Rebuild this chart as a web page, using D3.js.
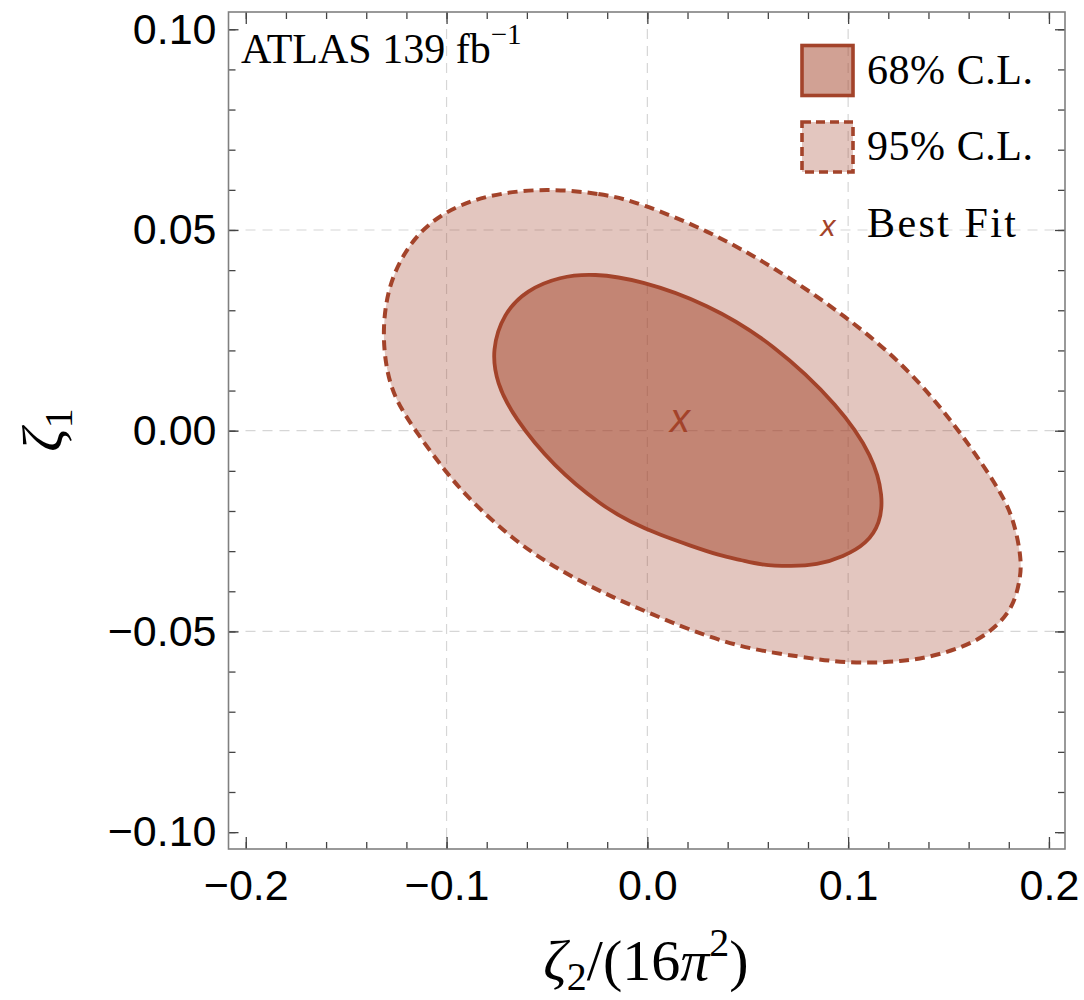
<!DOCTYPE html>
<html>
<head>
<meta charset="utf-8">
<script src="https://cdn.jsdelivr.net/npm/d3@7/dist/d3.min.js"></script>
<style>
  html, body { margin: 0; padding: 0; background: #fff; }
  svg { display: block; }
</style>
</head>
<body>
<svg id="chart" width="1084" height="1000"></svg>
<script>
// ---------------- data ----------------
// 95% C.L. contour (zeta2/(16 pi^2), zeta1)
const contour95 = [
  [-0.0551, 0.0606], [-0.0219, 0.0591], [-0.0036, 0.0567], [0.0296, 0.0500],
  [0.0627, 0.0409], [0.0993, 0.0284], [0.1292, 0.0159], [0.1541, 0.0010],
  [0.1740, -0.0135], [0.1823, -0.0214], [0.1865, -0.0322], [0.1856, -0.0372],
  [0.1823, -0.0438], [0.1740, -0.0488], [0.1624, -0.0530], [0.1424, -0.0563],
  [0.1258, -0.0575], [0.1093, -0.0579], [0.0926, -0.0575], [0.0760, -0.0563],
  [0.0528, -0.0546], [0.0296, -0.0513], [0.0030, -0.0459], [-0.0236, -0.0401],
  [-0.0468, -0.0339], [-0.0667, -0.0272], [-0.0883, -0.0173], [-0.0999, -0.0106],
  [-0.1157, 0.0000], [-0.1265, 0.0085], [-0.1306, 0.0168], [-0.1318, 0.0259],
  [-0.1290, 0.0359], [-0.1215, 0.0442], [-0.1099, 0.0517], [-0.0883, 0.0579]
];
// 68% C.L. contour
const contour68 = [
  [-0.0435, 0.0384], [-0.0269, 0.0392], [-0.0036, 0.0375], [0.0296, 0.0317],
  [0.0627, 0.0218], [0.0960, 0.0060], [0.1125, -0.0065], [0.1175, -0.0164],
  [0.1159, -0.0231], [0.1093, -0.0281], [0.0976, -0.0314], [0.0844, -0.0335],
  [0.0711, -0.0338], [0.0561, -0.0334], [0.0475, -0.0323], [0.0352, -0.0310],
  [0.0213, -0.0286], [0.0063, -0.0260], [-0.0086, -0.0227], [-0.0221, -0.0189],
  [-0.0468, -0.0089], [-0.0667, 0.0035], [-0.0750, 0.0118], [-0.0775, 0.0201],
  [-0.0717, 0.0292], [-0.0601, 0.0351]
];
const bestFit = [0.0163, 0.0022];

const xMajorTicks = [-0.2, -0.1, 0.0, 0.1, 0.2];
const xTickLabels = ["\u22120.2", "\u22120.1", "0.0", "0.1", "0.2"];
const yMajorTicks = [-0.10, -0.05, 0.00, 0.05, 0.10];
const yTickLabels = ["\u22120.10", "\u22120.05", "0.00", "0.05", "0.10"];
const xMinorTicks = d3.range(-20, 21, 2).map(v => v / 100);
const yMinorTicks = d3.range(-10, 11, 1).map(v => v / 100);
const xGrid = [-0.1, 0.0, 0.1];
const yGrid = [-0.05, 0.0, 0.05];
const legendLabels = ["68% C.L.", "95% C.L.", "Best Fit"];

// ---------------- layout ----------------
const svg = d3.select("#chart");
const L = 228.5, R = 1065, T = 12, B = 849;
const x = d3.scaleLinear().domain([-0.2086, 0.2080]).range([L, R]);
const y = d3.scaleLinear().domain([-0.1042, 0.1043]).range([B, T]);

const col = "#a3432a";
const gridCol = "#d6d6d6";
const serif = "'Liberation Serif', 'DejaVu Serif', serif";
const sans = "'Liberation Sans', Arial, sans-serif";

svg.append("rect").attr("width", 1084).attr("height", 1000).attr("fill", "#fff");

// gridlines
const grid = svg.append("g");
grid.selectAll("line.gx").data(xGrid).join("line")
  .attr("x1", d => x(d)).attr("x2", d => x(d)).attr("y1", T).attr("y2", B)
  .attr("stroke", gridCol).attr("stroke-width", 1.2).attr("stroke-dasharray", "10,7");
grid.selectAll("line.gy").data(yGrid).join("line")
  .attr("y1", d => y(d)).attr("y2", d => y(d)).attr("x1", L).attr("x2", R)
  .attr("stroke", gridCol).attr("stroke-width", 1.2).attr("stroke-dasharray", "10,7");

// contours
const line = d3.line().x(d => x(d[0])).y(d => y(d[1])).curve(d3.curveBasisClosed);
svg.append("path").attr("d", line(contour95))
  .attr("fill", col).attr("fill-opacity", 0.3)
  .attr("stroke", col).attr("stroke-width", 4).attr("stroke-dasharray", "10,6");
svg.append("path").attr("d", line(contour68))
  .attr("fill", col).attr("fill-opacity", 0.5)
  .attr("stroke", col).attr("stroke-width", 3.8);

// best fit marker
svg.append("text")
  .attr("x", x(bestFit[0])).attr("y", y(bestFit[1]) + 40 * 0.26)
  .attr("text-anchor", "middle").attr("font-family", sans).attr("font-style", "italic")
  .attr("font-size", 40).attr("fill", col).text("x");

// axes (ticks inward on all four sides)
function styleAxis(g) {
  g.select(".domain").remove();
  g.selectAll(".tick line").attr("stroke", "#444").attr("stroke-width", 1.3);
}
svg.append("g").attr("transform", `translate(0,${B})`)
  .call(d3.axisBottom(x).tickValues(xMinorTicks).tickSize(-7).tickFormat(""))
  .call(styleAxis);
svg.append("g").attr("transform", `translate(0,${B})`)
  .call(d3.axisBottom(x).tickValues(xMajorTicks).tickSize(-12).tickPadding(20)
    .tickFormat((d, i) => xTickLabels[i]))
  .call(styleAxis)
  .call(g => g.selectAll("text").attr("font-family", sans).attr("font-size", 43).attr("fill", "#000"));
svg.append("g").attr("transform", `translate(0,${T})`)
  .call(d3.axisTop(x).tickValues(xMinorTicks).tickSize(-7).tickFormat(""))
  .call(styleAxis);
svg.append("g").attr("transform", `translate(0,${T})`)
  .call(d3.axisTop(x).tickValues(xMajorTicks).tickSize(-12).tickFormat(""))
  .call(styleAxis);
svg.append("g").attr("transform", `translate(${L},0)`)
  .call(d3.axisLeft(y).tickValues(yMinorTicks).tickSize(-7).tickFormat(""))
  .call(styleAxis);
svg.append("g").attr("transform", `translate(${L},0)`)
  .call(d3.axisLeft(y).tickValues(yMajorTicks).tickSize(-10).tickPadding(12)
    .tickFormat((d, i) => yTickLabels[i]))
  .call(styleAxis)
  .call(g => g.selectAll("text").attr("font-family", sans).attr("font-size", 43).attr("fill", "#000"));
svg.append("g").attr("transform", `translate(${R},0)`)
  .call(d3.axisRight(y).tickValues(yMinorTicks).tickSize(-7).tickFormat(""))
  .call(styleAxis);
svg.append("g").attr("transform", `translate(${R},0)`)
  .call(d3.axisRight(y).tickValues(yMajorTicks).tickSize(-10).tickFormat(""))
  .call(styleAxis);

// frame
svg.append("rect").attr("x", L).attr("y", T).attr("width", R - L).attr("height", B - T)
  .attr("fill", "none").attr("stroke", "#808080").attr("stroke-width", 1.6);

// ATLAS label
const atl = svg.append("text").attr("x", 241).attr("y", 62.5)
  .attr("font-family", serif).attr("font-size", 42).attr("fill", "#000");
atl.append("tspan").text("ATLAS 139 fb");
atl.append("tspan").attr("dy", -19).attr("font-size", 29).text("\u22121");

// legend
const lg = svg.append("g");
lg.append("rect").attr("x", 802).attr("y", 45.5).attr("width", 51).attr("height", 50)
  .attr("fill", col).attr("fill-opacity", 0.5).attr("stroke", col).attr("stroke-width", 3.6);
lg.append("rect").attr("x", 802).attr("y", 122).attr("width", 51).attr("height", 50)
  .attr("fill", col).attr("fill-opacity", 0.3).attr("stroke", col).attr("stroke-width", 3.6)
  .attr("stroke-dasharray", "9,5");
lg.append("text").attr("x", 828).attr("y", 228.5 + 30 * 0.26).attr("text-anchor", "middle")
  .attr("font-family", sans).attr("font-style", "italic").attr("font-size", 30)
  .attr("fill", col).text("x");
const legBase = [83.5, 160, 236.5];
const legLen = [166, 166, 149];
lg.selectAll("text.lab").data(legendLabels).join("text")
  .attr("x", 867).attr("y", (d, i) => legBase[i])
  .attr("font-family", serif).attr("font-size", 42).attr("fill", "#000")
  .attr("textLength", (d, i) => legLen[i]).attr("lengthAdjust", "spacing")
  .text(d => d);

// x-axis title: ζ2/(16π^2)
const xt = svg.append("text").attr("x", 646).attr("y", 980).attr("text-anchor", "middle")
  .attr("font-family", serif).attr("font-size", 58).attr("fill", "#000");
xt.append("tspan").attr("font-style", "italic").text("\u03B6");
xt.append("tspan").attr("font-size", 40).attr("dy", 10).text("2");
xt.append("tspan").attr("dy", -10).text("/(16");
xt.append("tspan").attr("font-style", "italic").text("\u03C0");
xt.append("tspan").attr("font-size", 40).attr("dy", -24).text("2");
xt.append("tspan").attr("dy", 24).text(")");

// y-axis title: ζ1
const yt = svg.append("text").attr("transform", "translate(62,430) rotate(-90)")
  .attr("text-anchor", "middle").attr("font-family", serif).attr("font-size", 58).attr("fill", "#000");
yt.append("tspan").attr("font-style", "italic").text("\u03B6");
yt.append("tspan").attr("font-size", 40).attr("dy", 10).text("1");
</script>
</body>
</html>
